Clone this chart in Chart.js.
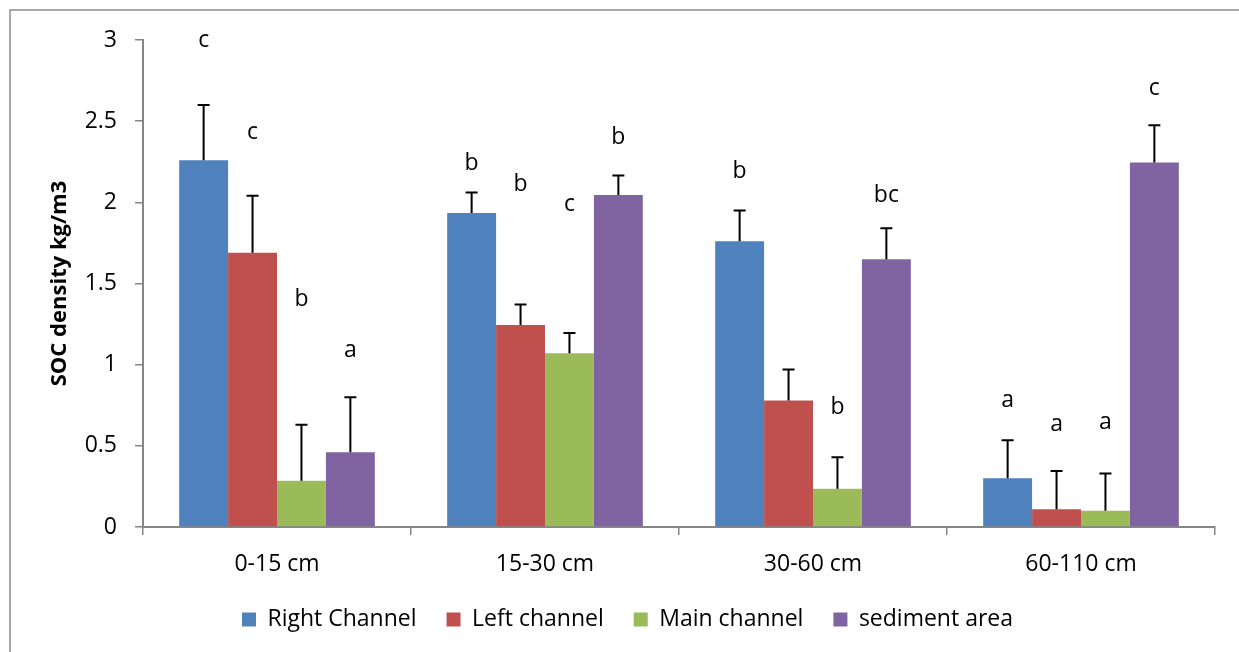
<!DOCTYPE html>
<html>
<head>
<meta charset="utf-8">
<script src="https://cdn.jsdelivr.net/npm/chart.js@4.4.1/dist/chart.umd.min.js"></script>
<style>
  html, body { margin: 0; padding: 0; background: #fff; }
  #wrap { width: 1239px; height: 652px; position: relative; }
</style>
</head>
<body>
<div id="wrap"><canvas id="chart" width="1239" height="652"></canvas></div>
<script>
// categories (soil depth)
const depths = ["0-15 cm", "15-30 cm", "30-60 cm", "60-110 cm"];

// SOC density means
const rightChannel = [2.26, 1.935, 1.76, 0.30];
const leftChannel = [1.69, 1.245, 0.78, 0.11];
const mainChannel = [0.285, 1.07, 0.235, 0.10];
const sedimentArea = [0.46, 2.045, 1.65, 2.245];

// upper end of error bars
const rightErr = [2.60, 2.06, 1.95, 0.535];
const leftErr = [2.04, 1.37, 0.97, 0.345];
const mainErr = [0.63, 1.195, 0.43, 0.33];
const sedimentErr = [0.80, 2.165, 1.84, 2.475];

// significance letters and the value they sit at
const rightLetters = ["c", "b", "b", "a"];
const leftLetters = ["c", "b", "", "a"];
const mainLetters = ["b", "c", "b", "a"];
const sedimentLetters = ["a", "b", "bc", "c"];
const rightLetterY = [3.0, 2.24, 2.19, 0.78];
const leftLetterY = [2.43, 2.11, 0, 0.63];
const mainLetterY = [1.40, 1.99, 0.735, 0.647];
const sedimentLetterY = [1.085, 2.40, 2.045, 2.70];

const yTicks = [0, 0.5, 1, 1.5, 2, 2.5, 3];

const FONT = "'Open Sans', 'DejaVu Sans', sans-serif";
const AXIS_GREY = "#868686";

// error bars + letters
const errorBarPlugin = {
  id: "errorBars",
  afterDatasetsDraw(chart) {
    const ctx = chart.ctx;
    const yScale = chart.scales.y;
    ctx.save();
    chart.data.datasets.forEach((ds, i) => {
      const meta = chart.getDatasetMeta(i);
      meta.data.forEach((bar, j) => {
        const top = yScale.getPixelForValue(ds.errTop[j]);
        ctx.strokeStyle = "#000";
        ctx.lineWidth = 2;
        ctx.beginPath();
        ctx.moveTo(bar.x, bar.y);
        ctx.lineTo(bar.x, top);
        ctx.moveTo(bar.x - 6, top);
        ctx.lineTo(bar.x + 6, top);
        ctx.stroke();

        if (ds.letters[j]) {
          ctx.fillStyle = "#000";
          ctx.font = "23px " + FONT;
          ctx.textAlign = "center";
          ctx.textBaseline = "middle";
          ctx.fillText(ds.letters[j], bar.x, yScale.getPixelForValue(ds.letterY[j]));
        }
      });
    });
    ctx.restore();
  }
};

// grey frame around the chart
const framePlugin = {
  id: "frame",
  beforeDraw(chart) {
    const ctx = chart.ctx;
    ctx.save();
    ctx.fillStyle = "#fff";
    ctx.fillRect(0, 0, chart.width, chart.height);
    ctx.strokeStyle = "#8c8c8c";
    ctx.lineWidth = 1.5;
    ctx.strokeRect(10, 10, chart.width + 20, chart.height + 20);
    ctx.restore();
  }
};

const data = {
  labels: depths,
  datasets: [
    { label: "Right Channel", data: rightChannel, errTop: rightErr, letters: rightLetters, letterY: rightLetterY, backgroundColor: "#4F81BD" },
    { label: "Left channel", data: leftChannel, errTop: leftErr, letters: leftLetters, letterY: leftLetterY, backgroundColor: "#C0504D" },
    { label: "Main channel", data: mainChannel, errTop: mainErr, letters: mainLetters, letterY: mainLetterY, backgroundColor: "#9BBB59" },
    { label: "sediment area", data: sedimentArea, errTop: sedimentErr, letters: sedimentLetters, letterY: sedimentLetterY, backgroundColor: "#8064A2" }
  ]
};

const config = {
  type: "bar",
  data,
  options: {
    responsive: false,
    animation: false,
    categoryPercentage: 0.73,
    barPercentage: 1.0,
    layout: { padding: { left: 40, right: 24, top: 40, bottom: 11 } },
    plugins: {
      tooltip: { enabled: false },
      legend: {
        position: "bottom",
        labels: {
          boxWidth: 14,
          boxHeight: 14,
          padding: 30,
          color: "#000",
          font: { family: FONT, size: 23 }
        }
      }
    },
    scales: {
      x: {
        afterFit: (scale) => { scale.height = 51; },
        grid: { display: true, drawOnChartArea: false, drawTicks: true, tickLength: 8, color: AXIS_GREY, lineWidth: 1.5, offset: true },
        border: { color: AXIS_GREY, width: 2 },
        ticks: { color: "#000", padding: 16, font: { family: FONT, size: 23 } }
      },
      y: {
        min: 0,
        max: 3,
        afterFit: (scale) => { scale.width = 103; },
        afterBuildTicks: (scale) => { scale.ticks = yTicks.map(v => ({ value: v })); },
        grid: { display: true, drawOnChartArea: false, drawTicks: true, tickLength: 8, color: AXIS_GREY, lineWidth: 1.5 },
        border: { color: AXIS_GREY, width: 2 },
        ticks: { color: "#000", padding: 18, font: { family: FONT, size: 23 }, callback: (v) => String(v) },
        title: {
          display: true,
          text: "SOC density kg/m3",
          color: "#000",
          padding: { top: 7, bottom: 0 },
          font: { family: FONT, size: 22, weight: "bold" }
        }
      }
    }
  },
  plugins: [framePlugin, errorBarPlugin]
};

new Chart(document.getElementById("chart"), config);
</script>
</body>
</html>
